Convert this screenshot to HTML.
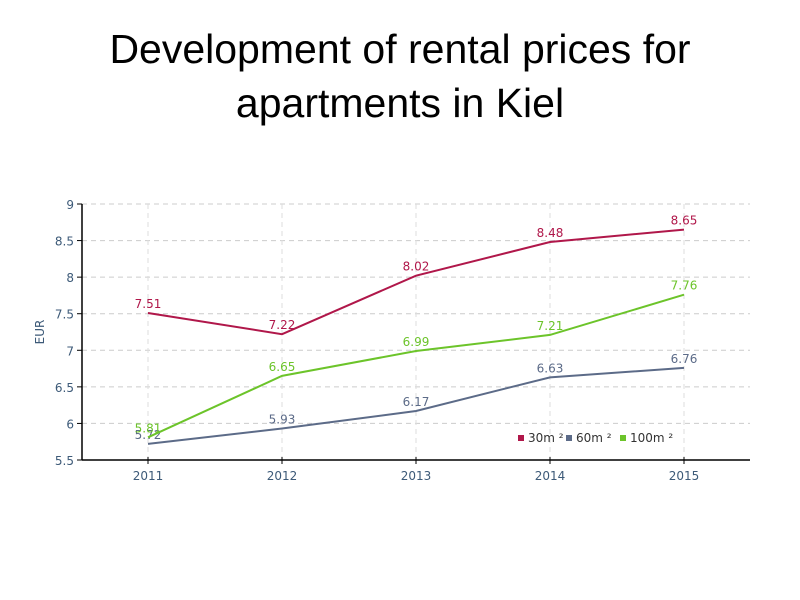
<!DOCTYPE html>
<html><head><meta charset="utf-8"><style>
body{margin:0;background:#fff;width:800px;height:600px;overflow:hidden;font-family:"Liberation Sans",sans-serif}
#title{position:absolute;left:0;top:22px;width:800px;text-align:center;font-size:41px;line-height:54px;color:#000}
</style></head><body>
<div id="title">Development of rental prices for<br>apartments in Kiel</div>
<svg id="chart" width="800" height="600" style="position:absolute;left:0;top:0;font-family:'DejaVu Sans',sans-serif"></svg>
<script>
const categories=["2011","2012","2013","2014","2015"];
const s30=[7.51,7.22,8.02,8.48,8.65];
const s60=[5.72,5.93,6.17,6.63,6.76];
const s100=[5.81,6.65,6.99,7.21,7.76];
const yTicks=[5.5,6,6.5,7,7.5,8,8.5,9];
const NS="http://www.w3.org/2000/svg";
const svg=document.getElementById('chart');
const x0=82,x1=750,yTop=204,yBot=460;
const xs=i=>148+i*134;
const ys=v=>yBot-(v-5.5)/3.5*(yBot-yTop);
function mk(t,a,txt){const e=document.createElementNS(NS,t);for(const k in a)e.setAttribute(k,a[k]);if(txt!=null)e.textContent=txt;svg.appendChild(e);return e;}
yTicks.forEach(v=>{
 if(v>5.5){const g=mk('line',{x1:x0,x2:x1,y1:ys(v),y2:ys(v),stroke:'#ccc','stroke-dasharray':'5,4'});
 
 }
 mk('line',{x1:x0-5,x2:x0,y1:ys(v),y2:ys(v),stroke:'#000'});
 const t=mk('text',{x:x0-8,y:ys(v)+5,'text-anchor':'end','font-size':12,fill:'#3d5a78'},String(v));
 
 
});
categories.forEach((c,i)=>{
 const g=mk('line',{x1:xs(i),x2:xs(i),y1:yTop,y2:yBot,stroke:'#ddd','stroke-dasharray':'5,4'});
 
 
 mk('line',{x1:xs(i),x2:xs(i),y1:yBot-3,y2:yBot+4,stroke:'#000'});
 const t=mk('text',{x:xs(i),y:yBot+20,'text-anchor':'middle','font-size':12,fill:'#3d5a78'},c);
 
 
});
const ax=mk('line',{x1:x0,x2:x0,y1:yTop,y2:yBot,stroke:'#000','stroke-width':1.5});


const bx=mk('line',{x1:x0,x2:x1,y1:yBot,y2:yBot,stroke:'#000','stroke-width':1.5});


const yt=mk('text',{x:0,y:0,transform:'translate(44,332) rotate(-90)','text-anchor':'middle','font-size':12,fill:'#3d5a78'},'EUR');


const series=[{n:'30m²',d:s30,c:'#b0174a'},{n:'60m²',d:s60,c:'#5c6b88'},{n:'100m²',d:s100,c:'#6cc42a'}];
series.forEach((s,si)=>{
 const p=mk('polyline',{points:s.d.map((v,i)=>xs(i)+','+ys(v)).join(' '),fill:'none',stroke:s.c,'stroke-width':2});
 
 
 s.d.forEach((v,i)=>{
  const t=mk('text',{x:xs(i),y:ys(v)-5,'text-anchor':'middle','font-size':12,fill:s.c},v.toFixed(2));
  
  
 });
});
const lx=[518,566,620];
series.forEach((s,i)=>{
 const r=mk('rect',{x:lx[i],y:435,width:6,height:6,fill:s.c});
 
 
 const t=mk('text',{x:lx[i]+10,y:442,'font-size':12,fill:'#333'},s.n.replace('²',' ²'));
 
 
});
</script>
</body></html>
